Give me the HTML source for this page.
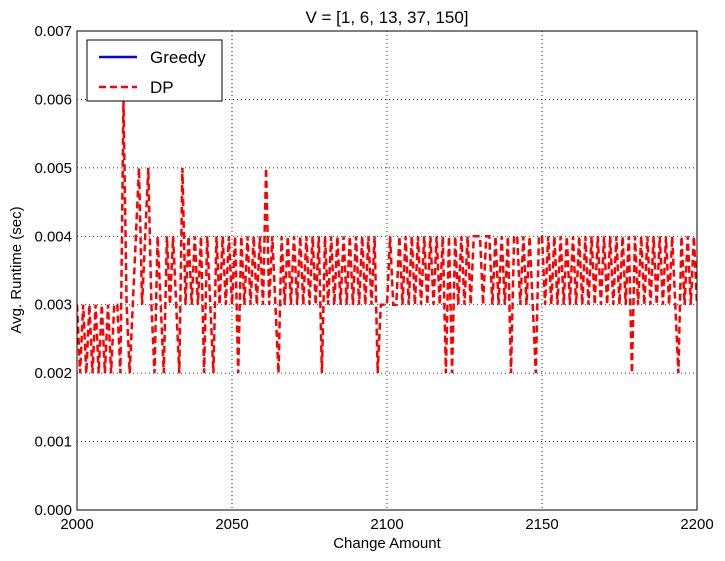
<!DOCTYPE html>
<html><head><meta charset="utf-8"><style>
body{margin:0;background:#fff;}
svg{display:block;font-family:"Liberation Sans",sans-serif;}
</style></head><body>
<svg id="chart" width="725" height="561">
<rect width="725" height="561" fill="#fff"/>
<g id="grid"></g>
<g id="series" clip-path="url(#clip)"></g>
<defs><clipPath id="clip"><rect x="77" y="31" width="620" height="479"/></clipPath></defs>
<rect x="77" y="31" width="620" height="479" fill="none" stroke="#000" stroke-width="1"/>
<g id="ticks"></g>
<text x="387" y="23" font-size="17" text-anchor="middle">V = [1, 6, 13, 37, 150]</text>
<text x="387" y="548" font-size="15" text-anchor="middle">Change Amount</text>
<text transform="translate(21,270) rotate(-90)" font-size="15" text-anchor="middle">Avg. Runtime (sec)</text>
<g>
<rect x="87" y="40" width="135" height="61" fill="#fff" stroke="#000" stroke-width="1"/>
<g>
<line x1="99" y1="57" x2="137" y2="57" stroke="#0000ff" stroke-width="2.5"/>
<text x="150" y="63" font-size="17">Greedy</text></g>
<g>
<line x1="99" y1="87" x2="137" y2="87" stroke="#ff0000" stroke-width="2.5" stroke-dasharray="7,4"/>
<text x="150" y="93" font-size="17">DP</text></g>
</g>
</svg>
<script>
const xTicks=[2000,2050,2100,2150,2200];
const yTicks=[0,0.001,0.002,0.003,0.004,0.005,0.006,0.007];
const yTickLabels=["0.000","0.001","0.002","0.003","0.004","0.005","0.006","0.007"];
const xStart=2000;
const dpValues=[0.003,0.002,0.003,0.002,0.003,0.002,0.003,0.002,0.003,0.002,0.003,0.002,0.003,0.003,0.002,
0.006,0.003,0.002,0.003,0.004,0.005,0.003,0.004,0.005,0.003,0.002,0.004,0.003,0.002,0.004,
0.003,0.004,0.003,0.002,0.005,0.003,0.004,0.003,0.004,0.003,0.004,0.002,0.004,0.003,0.002,
0.004,0.003,0.004,0.003,0.004,0.003,0.004,0.002,0.004,0.003,0.004,0.003,0.004,0.003,0.004,
0.003,0.005,0.003,0.004,0.003,0.002,0.004,0.003,0.004,0.003,0.004,0.003,0.004,0.003,0.004,
0.003,0.004,0.003,0.004,0.002,0.004,0.003,0.004,0.003,0.004,0.003,0.004,0.003,0.004,0.003,
0.004,0.003,0.004,0.003,0.004,0.003,0.004,0.002,0.003,0.003,0.003,0.004,0.003,0.003,0.004,
0.003,0.004,0.003,0.004,0.003,0.004,0.003,0.004,0.003,0.004,0.003,0.004,0.003,0.004,0.002,
0.004,0.002,0.004,0.003,0.004,0.003,0.004,0.003,0.004,0.004,0.004,0.003,0.004,0.004,0.003,
0.004,0.003,0.004,0.003,0.004,0.002,0.004,0.004,0.003,0.004,0.003,0.004,0.003,0.002,0.004,
0.004,0.003,0.004,0.003,0.004,0.003,0.004,0.003,0.004,0.003,0.004,0.003,0.004,0.003,0.004,
0.003,0.004,0.003,0.004,0.003,0.004,0.003,0.004,0.003,0.004,0.003,0.004,0.003,0.004,0.002,
0.004,0.003,0.004,0.003,0.004,0.003,0.004,0.003,0.004,0.003,0.004,0.003,0.004,0.003,0.002,
0.004,0.003,0.004,0.003,0.004,0.003];
const X0=77,X1=697,Y0=510,Y1=31;
function xs(v){return X0+(v-2000)/(2200-2000)*(X1-X0);}
function ys(v){return Y0-(v/0.007)*(Y0-Y1);}
const NS="http://www.w3.org/2000/svg";
const grid=document.getElementById('grid'),ticks=document.getElementById('ticks'),series=document.getElementById('series');
xTicks.forEach(t=>{
 const x=xs(t);
 if(t>2000&&t<2200){const g=document.createElementNS(NS,'line');
 
 
 g.setAttribute('x1',x);g.setAttribute('x2',x);g.setAttribute('y1',Y1);g.setAttribute('y2',Y0);
 g.setAttribute('stroke','#000');g.setAttribute('stroke-dasharray','1,3');g.setAttribute('stroke-width','0.8');grid.appendChild(g);}
 const l=document.createElementNS(NS,'text');
 
 
 l.setAttribute('x',x);l.setAttribute('y',Y0+19);l.setAttribute('font-size','15');l.setAttribute('text-anchor','middle');
 l.textContent=t;ticks.appendChild(l);
});
yTicks.forEach((t,i)=>{
 const y=ys(t);
 if(i>0&&i<yTicks.length-1){const g=document.createElementNS(NS,'line');
 
 
 g.setAttribute('x1',X0);g.setAttribute('x2',X1);g.setAttribute('y1',y);g.setAttribute('y2',y);
 g.setAttribute('stroke','#000');g.setAttribute('stroke-dasharray','1,3');g.setAttribute('stroke-width','0.8');grid.appendChild(g);}
 const l=document.createElementNS(NS,'text');
 
 
 l.setAttribute('x',X0-5);l.setAttribute('y',y+5);l.setAttribute('font-size','15');l.setAttribute('text-anchor','end');
 l.textContent=yTickLabels[i];ticks.appendChild(l);
});
const pts=dpValues.map((v,i)=>xs(xStart+i).toFixed(2)+','+ys(v).toFixed(2)).join(' ');
const pl=document.createElementNS(NS,'polyline');


pl.setAttribute('points',pts);pl.setAttribute('fill','none');pl.setAttribute('stroke','#ff0000');
pl.setAttribute('stroke-width','2.5');pl.setAttribute('stroke-dasharray','7,4');
series.appendChild(pl);
</script>
</body></html>
